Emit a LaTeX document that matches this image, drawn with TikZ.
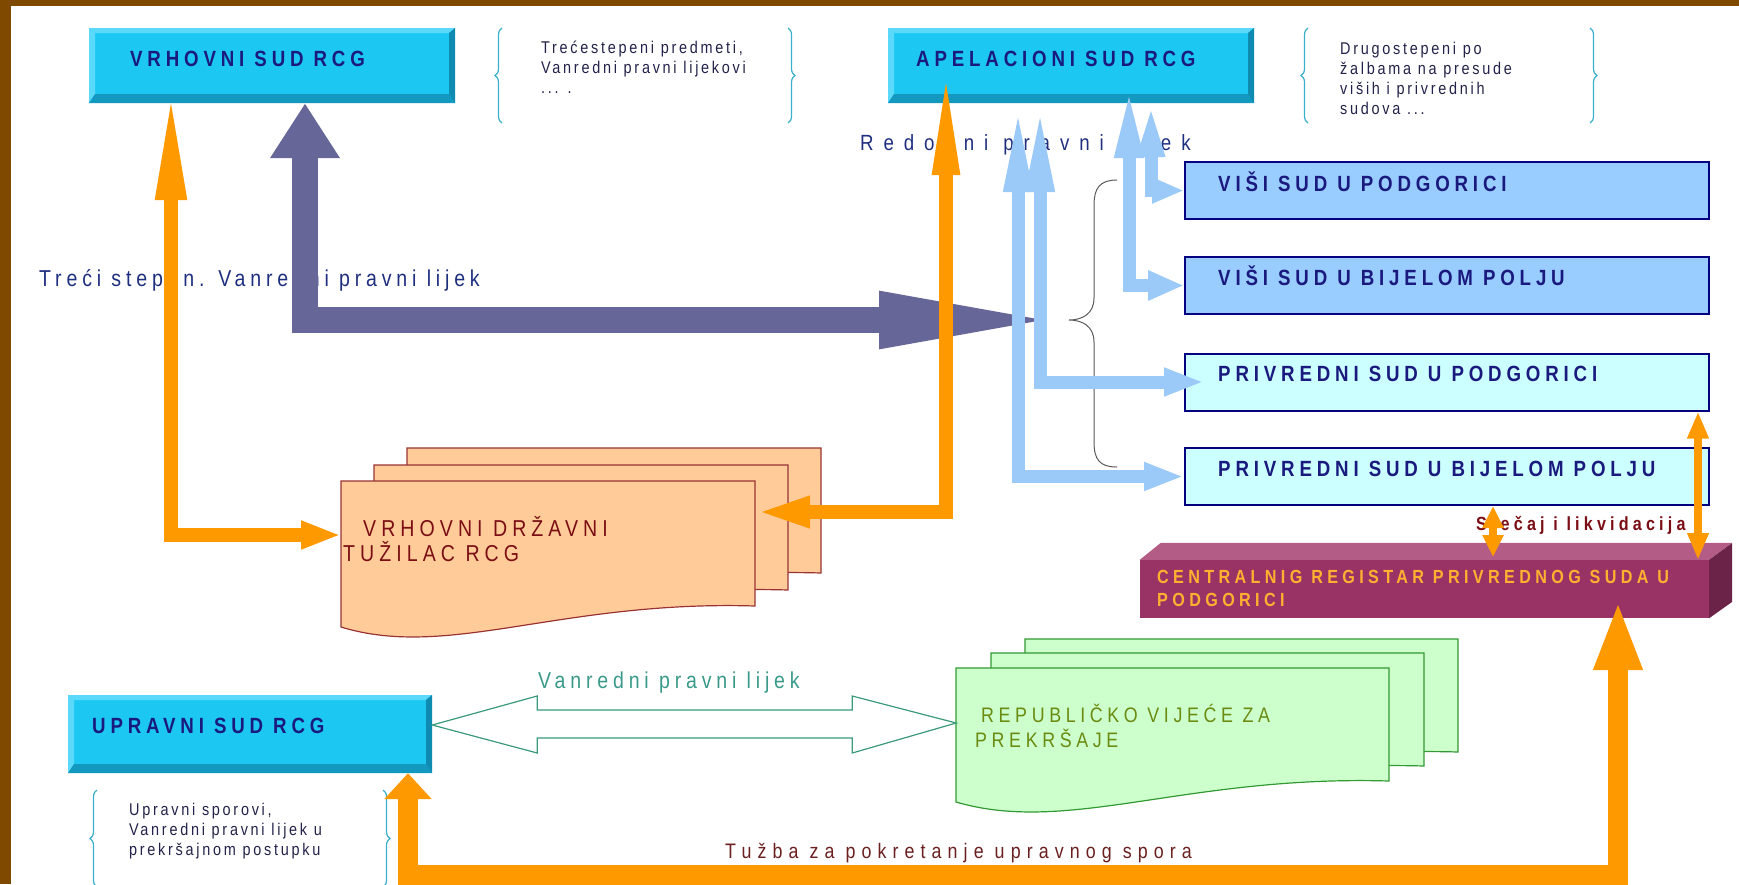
\documentclass[tikz,border=0pt]{standalone}
\usepackage{fontspec}
\setmainfont{Liberation Sans}
\newfontfamily\lblfont{Liberation Sans}[FakeStretch=0.85,LetterSpace=22]
\newfontfamily\thinfont{Liberation Sans}[FakeStretch=0.85,LetterSpace=21]
\newfontfamily\notefont{Liberation Sans}[FakeStretch=0.85,LetterSpace=16]
\usetikzlibrary{arrows.meta,decorations.pathreplacing,positioning}

\definecolor{brownframe}{HTML}{7F4A00}
\definecolor{cyanbox}{HTML}{1CC8F2}
\definecolor{cyanlight}{HTML}{5AD9FA}
\definecolor{cyandark}{HTML}{1399C0}
\definecolor{cyanright}{HTML}{0F8AB0}
\definecolor{navytext}{HTML}{1A1A7E}
\definecolor{notetext}{HTML}{22224A}
\definecolor{visifill}{HTML}{99CCFF}
\definecolor{privfill}{HTML}{CCFFFF}
\definecolor{courtedge}{HTML}{000080}
\definecolor{lblue}{HTML}{9CCAF8}
\definecolor{orangearr}{HTML}{FF9900}
\definecolor{purplearr}{HTML}{666699}
\definecolor{peachfill}{HTML}{FFCC99}
\definecolor{peachedge}{HTML}{993333}
\definecolor{redtext}{HTML}{7B0E14}
\definecolor{greenfill}{HTML}{CCFFCC}
\definecolor{greenedge}{HTML}{339933}
\definecolor{olivetext}{HTML}{6B8A10}
\definecolor{centfront}{HTML}{993366}
\definecolor{centtop}{HTML}{B35C85}
\definecolor{centside}{HTML}{6B2348}
\definecolor{centtext}{HTML}{FFB030}
\definecolor{tealarr}{HTML}{3A9A7A}
\definecolor{tealtext}{HTML}{3A9A8A}
\definecolor{bracecol}{HTML}{3AB0CC}
\definecolor{lighttext}{HTML}{1F2F7F}
\definecolor{tuzbatext}{HTML}{6B2020}

% one page of a stack: x, y of top left, width, height
\newcommand{\docpage}[5]{%
  \draw[#1] (#2,#3) -- (#2+#4,#3) -- (#2+#4,#3+#5-21)
    .. controls (#2+0.53*#4,#3+#5-27) and (#2+0.26*#4,#3+#5+33) .. (#2,#3+#5) -- cycle;}

\begin{document}
\begin{tikzpicture}[x=1pt,y=-1pt,
    bevelbox/.style={rectangle, fill=cyanbox, inner sep=0pt,
      path picture={
        \fill[cyanlight] (path picture bounding box.north west) -- (path picture bounding box.north east)
          -- ([shift={(-6pt,-5pt)}]path picture bounding box.north east)
          -- ([shift={(6pt,-5pt)}]path picture bounding box.north west) -- cycle;
        \fill[cyanlight] (path picture bounding box.north west) -- (path picture bounding box.south west)
          -- ([shift={(6pt,9pt)}]path picture bounding box.south west)
          -- ([shift={(6pt,-5pt)}]path picture bounding box.north west) -- cycle;
        \fill[cyandark] (path picture bounding box.south west) -- (path picture bounding box.south east)
          -- ([shift={(-6pt,9pt)}]path picture bounding box.south east)
          -- ([shift={(6pt,9pt)}]path picture bounding box.south west) -- cycle;
        \fill[cyanright] (path picture bounding box.north east) -- (path picture bounding box.south east)
          -- ([shift={(-6pt,9pt)}]path picture bounding box.south east)
          -- ([shift={(-6pt,-5pt)}]path picture bounding box.north east) -- cycle;}},
    court/.style={rectangle, draw=courtedge, line width=2pt, minimum width=524pt, minimum height=57pt, inner sep=0pt},
    boxtext/.style={anchor=base west, inner sep=0pt, text=navytext, font=\lblfont\bfseries\fontsize{22}{26}\selectfont},
    note/.style={anchor=west, inner sep=0pt, align=left, text=notetext, font=\notefont\fontsize{17}{20}\selectfont},
    lighttxt/.style={anchor=base west, inner sep=0pt, font=\thinfont\fontsize{23}{27}\selectfont},
    smallbrace/.style={decorate, decoration={brace, amplitude=7pt}, draw=bracecol, line width=1.2pt},
    bigbrace/.style={draw=black!65, line width=1pt},
    lbline/.style={draw=lblue, line width=13pt},
    orline/.style={draw=orangearr, line width=14pt},
    orthin/.style={draw=orangearr, line width=8pt},
    orbig/.style={draw=orangearr, line width=20pt},
    purline/.style={draw=purplearr, line width=26pt},
    hollow/.style={draw=tealarr, line width=1.2pt, fill=white},
    peachdoc/.style={draw=peachedge, line width=1.2pt, fill=peachfill},
    greendoc/.style={draw=greenedge, line width=1.2pt, fill=greenfill}]
\useasboundingbox (0,0) rectangle (1739,884);
\fill[brownframe] (0,0) rectangle (1739,6);
\fill[brownframe] (0,0) rectangle (11,884);

% courts
\node[bevelbox, minimum width=366pt, minimum height=75pt] (vrhovni) at (272,65.5) {};
\node[bevelbox, minimum width=366pt, minimum height=75pt] (apelacioni) at (1071,65.5) {};
\node[bevelbox, minimum width=364pt, minimum height=78pt] (upravni) at (250,734) {};
\node[court, fill=visifill] (visiPG) at (1447,190.5) {};
\node[court, fill=visifill] (visiBP) at (1447,285.5) {};
\node[court, fill=privfill] (privPG) at (1447,382) {};
\node[court, fill=privfill] (privBP) at (1447,476.5) {};

\node[boxtext] (vrhovniT) at (130,66) {VRHOVNI SUD RCG};
\node[boxtext] (apelacioniT) at (916,66) {APELACIONI SUD RCG};
\node[boxtext] (upravniT) at (92,733) {UPRAVNI SUD RCG};
\node[boxtext] (visiPGT) at (1218,191) {VIŠI SUD U PODGORICI};
\node[boxtext] (visiBPT) at (1218,285) {VIŠI SUD U BIJELOM POLJU};
\node[boxtext] (privPGT) at (1218,381) {PRIVREDNI SUD U PODGORICI};
\node[boxtext] (privBPT) at (1218,476) {PRIVREDNI SUD U BIJELOM POLJU};

% central register
\node[rectangle, fill=centfront, minimum width=569pt, minimum height=58pt, inner sep=0pt] (central) at (1424.5,589) {};
\fill[centtop] (central.north west) -- ++(21,-17) -- ++(571,0) -- (central.north east) -- cycle;
\fill[centside] (central.north east) -- ++(23,-17) -- ++(0,59) -- (central.south east) -- cycle;
\node[anchor=west, inner sep=0pt, align=left, text=centtext,
  font=\lblfont\addfontfeatures{LetterSpace=23}\bfseries\fontsize{19}{23}\selectfont]
  (centralT) at (1157,588.5) {CENTRALNIG REGISTAR PRIVREDNOG SUDA U\\PODGORICI};
\node[anchor=base west, inner sep=0pt, text=redtext, font=\lblfont\bfseries\fontsize{19}{22}\selectfont]
  (stecaj) at (1476,530) {Stečaj i likvidacija};

% document stacks
\docpage{peachdoc}{407}{448}{414}{146}
\docpage{peachdoc}{374}{465}{414}{146}
\docpage{peachdoc}{341}{481}{414}{146}
\node[anchor=west, inner sep=0pt, align=left, text=redtext, font=\lblfont\fontsize{23}{25}\selectfont]
  (tuzilac) at (343,539.5) {\hspace*{20pt}VRHOVNI DRŽAVNI\\TUŽILAC RCG};
\coordinate (tuzW) at (341,535);
\coordinate (tuzE) at (755,512);

\docpage{greendoc}{1025}{639}{433}{134}
\docpage{greendoc}{991}{653}{433}{134}
\docpage{greendoc}{956}{668}{433}{134}
\node[anchor=west, inner sep=0pt, align=left, text=olivetext, font=\lblfont\fontsize{21}{25}\selectfont]
  (vijece) at (975,725.5) {\hspace*{6pt}REPUBLIČKO VIJEĆE ZA\\PREKRŠAJE};

% notes in braces
\draw[smallbrace] (502,123) -- (502,28);
\draw[smallbrace] (788,28) -- (788,123);
\node[note] (note1) at (541,67) {Trećestepeni predmeti,\\Vanredni pravni lijekovi\\... .};
\draw[smallbrace] (1308,123) -- (1308,28);
\draw[smallbrace] (1590,28) -- (1590,123);
\node[note] (note2) at (1340,78) {Drugostepeni po\\žalbama na presude\\viših i privrednih\\sudova ...};
\draw[smallbrace] (97,887) -- (97,790);
\draw[smallbrace] (383,790) -- (383,887);
\node[note] (note3) at (129,831) {Upravni sporovi,\\Vanredni pravni lijek u\\prekršajnom  postupku};

% labels of connectors
\node[lighttxt, text=lighttext] (trecilbl) at (39,286) {Treći stepen. Vanredni pravni lijek};
\node[lighttxt, text=lighttext, font=\thinfont\addfontfeatures{LetterSpace=45}\fontsize{22}{26}\selectfont]
  (redovnilbl) at (860,150) {Redovni pravni lijek};
\node[lighttxt, text=tealtext] (vanrednilbl) at (538,688) {Vanredni pravni lijek};
\node[lighttxt, text=tuzbatext, font=\thinfont\addfontfeatures{LetterSpace=29}\fontsize{21}{25}\selectfont]
  (tuzbalbl) at (725,858) {Tužba za pokretanje upravnog spora};

% brace before the lower courts
\coordinate (bracetip) at (1069,320);
\draw[bigbrace] (1117,180) .. controls (1100,180) and (1094,188) .. (1094,205) -- (1094,298)
  .. controls (1094,314) and (1082,320) .. (bracetip) .. controls (1082,320) and (1094,326) .. (1094,342)
  -- (1094,442) .. controls (1094,460) and (1100,467) .. (1117,467);

% connectors
\draw[purline, {Triangle[length=55pt,width=66pt]}-{Triangle[length=190pt,width=50pt]}]
  (305,0 |- vrhovni.south) |- (bracetip);
\draw[lbline, {Triangle[length=55pt,width=24pt]}-{Triangle[length=32pt,width=24pt]}] (1151,102) |- (visiPG.west);
\draw[lbline, {Triangle[length=70pt,width=26pt]}-{Triangle[length=36pt,width=28pt]}] (1129,88) |- (visiBP.west);
\draw[lbline, {Triangle[length=85pt,width=26pt]}-{Triangle[length=40pt,width=26pt]}] (1040,107) |- ([xshift=20pt]privPG.west);
\draw[lbline, {Triangle[length=85pt,width=26pt]}-{Triangle[length=40pt,width=26pt]}] (1018,107) |- (privBP.west);
\draw[orline, {Triangle[length=110pt,width=28pt]}-{Triangle[length=40pt,width=26pt]}] (171,90) |- (tuzW);
\draw[orline, {Triangle[length=113pt,width=24pt]}-{Triangle[length=55pt,width=28pt]}] (946,62) |- (tuzE);
\draw[orthin, {Triangle[length=22pt,width=20pt]}-{Triangle[length=22pt,width=20pt]}] (1493,0 |- privBP.south) -- (1493,557);
\draw[orthin, {Triangle[length=27pt,width=20pt]}-{Triangle[length=27pt,width=20pt]}] (1698,0 |- privPG.south) -- (1698,560);
\draw[orbig, {Triangle[length=26pt,width=46pt]}-{Triangle[length=70pt,width=44pt]}]
  (408,0 |- upravni.south) |- (1618,875) -- (1618,600);
\draw[hollow] ([yshift=9pt]upravni.east) -- ++(105,-29) -- ++(0,14) -- ++(315,0) -- ++(0,-14)
  -- ++(104,27) -- ++(-104,30) -- ++(0,-15) -- ++(-315,0) -- ++(0,15) -- cycle;
\end{tikzpicture}
\end{document}
